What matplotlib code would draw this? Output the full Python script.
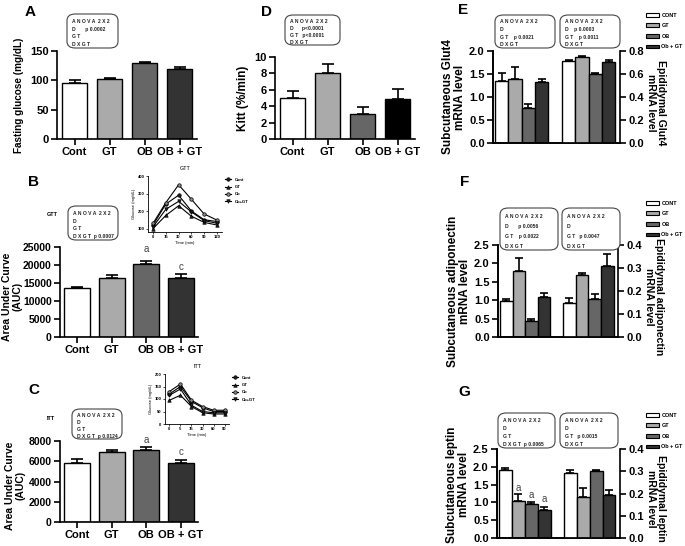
import matplotlib
matplotlib.use('Agg')
from matplotlib import pyplot as plt
from matplotlib.patches import FancyBboxPatch, Patch
import numpy as np

plt.rcParams['font.family'] = ['Liberation Sans', 'DejaVu Sans']
plt.rcParams['font.weight'] = 'bold'

W, H = 685, 546

# ---- data ----
groups = ['Cont', 'GT', 'OB', 'OB + GT']
legend_labels = ['CONT', 'GT', 'OB', 'Ob + GT']

glucose = [96, 102, 129, 120]
glucose_err = [5, 2, 2, 3]

gtt_auc = [13700, 16300, 20400, 16500]
gtt_auc_err = [300, 1000, 700, 1000]

itt_auc = [5800, 6950, 7100, 5850]
itt_auc_err = [400, 200, 300, 250]

kitt = [5.0, 8.1, 3.1, 4.9]
kitt_err = [0.8, 1.0, 0.85, 1.2]

glut4_sub = [1.35, 1.40, 0.75, 1.32]
glut4_sub_err = [0.17, 0.25, 0.10, 0.08]
glut4_epi = [0.71, 0.75, 0.60, 0.70]
glut4_epi_err = [0.01, 0.005, 0.01, 0.02]

adipo_sub = [0.97, 1.78, 0.44, 1.10]
adipo_sub_err = [0.05, 0.37, 0.04, 0.10]
adipo_epi = [0.148, 0.270, 0.165, 0.310]
adipo_epi_err = [0.022, 0.010, 0.020, 0.050]

leptin_sub = [1.92, 1.05, 0.95, 0.78]
leptin_sub_err = [0.06, 0.18, 0.05, 0.08]
leptin_epi = [0.290, 0.185, 0.300, 0.195]
leptin_epi_err = [0.014, 0.040, 0.005, 0.020]

time_gtt = ['0', '15', '30', '60', '90', '120']
time_itt = ['0', '5', '15', '30', '60', '90']
inset_names = ['Cont', 'GT', 'Ob', 'Ob+GT']
gtt_curves = [
    [120, 240, 290, 200, 150, 140],
    [100, 175, 230, 170, 135, 120],
    [130, 248, 350, 267, 183, 148],
    [110, 210, 255, 195, 145, 130],
]
itt_curves = [
    [120, 150, 90, 65, 50, 50],
    [95, 115, 70, 45, 40, 40],
    [130, 160, 95, 70, 55, 55],
    [115, 140, 75, 50, 45, 45],
]

bar_colors = ['#ffffff', '#aaaaaa', '#666666', '#333333']
markers = ['o', '^', 'o', 'v']
marker_faces = ['#222222', '#222222', '#888888', '#222222']

fig = plt.figure(figsize=(W / 100, H / 100), dpi=100)


def px_axes(x0, y0, x1, y1):
    return fig.add_axes([x0 / W, 1 - y1 / H, (x1 - x0) / W, (y1 - y0) / H])


def px_text(x, y, s, **kw):
    fig.text(x / W, 1 - y / H, s, **kw)


def style_axis(ax, right=False, tsize=8):
    for side in ['top', 'right']:
        ax.spines[side].set_visible(False)
    if right:
        ax.spines['right'].set_visible(True)
    for sp in ax.spines.values():
        sp.set_linewidth(1.2)
    ax.tick_params(direction='out', width=1.2, length=4, labelsize=tsize, pad=2)
    for lbl in ax.get_yticklabels() + ax.get_xticklabels():
        lbl.set_fontweight('bold')


def anova_box(x0, y0, x1, y1, lines):
    box = FancyBboxPatch((x0 / W, 1 - y1 / H), (x1 - x0) / W, (y1 - y0) / H,
                         boxstyle='round,pad=0,rounding_size=0.012',
                         transform=fig.transFigure, facecolor='white',
                         edgecolor='#444444', linewidth=0.8)
    fig.patches.append(box)
    step = (y1 - y0) / (len(lines) + 0.3)
    for i, ln in enumerate(lines):
        px_text(x0 + 5, y0 + step * (i + 0.9), ln, fontsize=3.6,
                fontweight='bold', va='center', ha='left', color='#222222')


def simple_bars(ax, vals, errs, colors, ylim, ticks, ylabel, lsize=8, lpad=3, tsize=8):
    x = np.arange(len(vals))
    ax.bar(x, vals, width=0.74, color=colors, edgecolor='black', linewidth=1)
    ax.errorbar(x, vals, yerr=[np.zeros(len(errs)), errs], fmt='none',
                ecolor='black', elinewidth=1.2, capsize=4, capthick=1.2)
    ax.set_xlim(-0.5, 3.5)
    ax.set_ylim(*ylim)
    ax.set_yticks(ticks)
    ax.set_xticks(x)
    ax.set_xticklabels(groups)
    ax.set_ylabel(ylabel, fontsize=lsize, fontweight='bold', labelpad=lpad,
                  linespacing=1.1)
    style_axis(ax, tsize=tsize)
    ax.tick_params(axis='x', labelsize=8)


def twin_bars(ax, left_vals, left_err, right_vals, right_err,
              lylim, lticks, rylim, rticks, lylabel, rylabel):
    xl = np.arange(4)
    xr = np.arange(4) + 5
    ax.bar(xl, left_vals, width=1, color=bar_colors, edgecolor='black', linewidth=1)
    ax.errorbar(xl, left_vals, yerr=[np.zeros(4), left_err], fmt='none',
                ecolor='black', elinewidth=1.2, capsize=3, capthick=1.2)
    ax.set_xlim(-0.65, 8.85)
    ax.set_ylim(*lylim)
    ax.set_yticks(lticks)
    ax.set_xticks([])
    ax.set_ylabel(lylabel, fontsize=8.5, fontweight='bold', labelpad=2,
                  linespacing=1.0)
    ax2 = ax.twinx()
    ax2.bar(xr, right_vals, width=1, color=bar_colors, edgecolor='black', linewidth=1)
    ax2.errorbar(xr, right_vals, yerr=[np.zeros(4), right_err], fmt='none',
                 ecolor='black', elinewidth=1.2, capsize=3, capthick=1.2)
    ax2.set_ylim(*rylim)
    ax2.set_yticks(rticks)
    ax2.set_ylabel(rylabel, fontsize=7.5, fontweight='bold', rotation=-90,
                   labelpad=16, linespacing=1.0)
    ax2.yaxis.label.set_y(0.44)
    style_axis(ax)
    style_axis(ax2, right=True)
    ax2.spines['left'].set_visible(True)
    ax2.spines['top'].set_visible(False)
    ax.yaxis.set_major_formatter(matplotlib.ticker.FormatStrFormatter('%.1f'))
    return ax2


def bar_legend(x, y):
    handles = [Patch(facecolor=c, edgecolor='black', linewidth=0.8) for c in bar_colors]
    fig.legend(handles, legend_labels, loc='upper left',
               bbox_to_anchor=(x / W, 1 - y / H), frameon=False,
               fontsize=4, handlelength=2.3, handleheight=0.7,
               labelspacing=1.0, handletextpad=0.5, borderpad=0)


def inset_curve(x0, y0, x1, y1, curves, labels, ylim, yticks, title):
    ax = px_axes(x0, y0, x1, y1)
    xs = np.arange(len(labels))
    handles = []
    for cur, m, fc, nm in zip(curves, markers, marker_faces, inset_names):
        h, = ax.plot(xs, cur, color='black', lw=0.8, marker=m, ms=2.5,
                     mfc=fc, mec='black', mew=0.5, label=nm)
        handles.append(h)
    ax.set_xlim(-0.4, len(labels) - 0.6)
    ax.set_ylim(*ylim)
    ax.set_yticks(yticks)
    ax.set_xticks(xs)
    ax.set_xticklabels(labels)
    for sp in ['top', 'right']:
        ax.spines[sp].set_visible(False)
    for sp in ['left', 'bottom']:
        ax.spines[sp].set_linewidth(0.6)
    ax.tick_params(labelsize=3, length=1.5, width=0.5, pad=1)
    ax.set_xlabel('Time (min)', fontsize=3, labelpad=1)
    ax.set_ylabel('Glucose (mg/dL)', fontsize=3, labelpad=1)
    ax.set_title(title, fontsize=4, pad=4)
    ax.legend(handles=handles, loc='upper left', bbox_to_anchor=(1.02, 1.0),
              frameon=False, fontsize=3, handlelength=1.5, labelspacing=0.8,
              borderaxespad=0)
    return ax


# ---- A ----
axA = px_axes(57, 51, 197, 139)
simple_bars(axA, glucose, glucose_err, bar_colors, (0, 150), [0, 50, 100, 150],
            'Fasting glucose (mg/dL)', lsize=7.2, lpad=4)
px_text(25, 12, 'A', fontsize=11, fontweight='bold', va='center')
anova_box(67, 14, 118, 48, ['A N O V A  2 X 2', 'D       p 0.0002', 'G T', 'D X G T'])

# ---- B ----
axB = px_axes(60, 247, 198, 337)
simple_bars(axB, gtt_auc, gtt_auc_err, bar_colors, (0, 25000),
            [0, 5000, 10000, 15000, 20000, 25000], 'Area Under Curve\n(AUC)',
            lsize=7.5, lpad=1, tsize=7.5)
axB.yaxis.set_label_coords(-0.27, 0.45)
axB.text(2, 23500, 'a', ha='center', fontsize=7, fontweight='normal', color='#444444')
axB.text(3, 18700, 'c', ha='center', fontsize=7, fontweight='normal', color='#444444')
px_text(28, 182, 'B', fontsize=11, fontweight='bold', va='center')
px_text(47, 215, 'GTT', fontsize=4, fontweight='bold', va='center')
anova_box(68, 206, 118, 240, ['A N O V A  2 X 2', 'D', 'G T', 'D X G T  p 0.0007'])
inset_curve(148, 176, 222, 232, gtt_curves, time_gtt, (80, 400),
            [100, 200, 300, 400], 'GTT')

# ---- C ----
axC = px_axes(60, 441, 198, 522)
simple_bars(axC, itt_auc, itt_auc_err, bar_colors, (0, 8000),
            [0, 2000, 4000, 6000, 8000], 'Area Under Curve\n(AUC)',
            lsize=7.5, lpad=3, tsize=7.5)
axC.yaxis.set_label_coords(-0.25, 0.45)
axC.text(2, 7850, 'a', ha='center', fontsize=7, fontweight='normal',
         color='#444444', clip_on=False)
axC.text(3, 6600, 'c', ha='center', fontsize=7, fontweight='normal', color='#444444')
px_text(28, 390, 'C', fontsize=11, fontweight='bold', va='center')
px_text(47, 418, 'ITT', fontsize=4, fontweight='bold', va='center')
anova_box(72, 409, 122, 439, ['A N O V A  2 X 2', 'D', 'G T', 'D X G T  p 0.0124'])
inset_curve(165, 374, 229, 424, itt_curves, time_itt, (0, 200),
            [0, 50, 100, 150, 200], 'ITT')

# ---- D ----
axD = px_axes(275, 57, 415, 139)
simple_bars(axD, kitt, kitt_err, bar_colors[:3] + ['#000000'], (0, 10),
            [0, 2, 4, 6, 8, 10], 'Kitt (%/min)', lsize=8.5, lpad=4)
px_text(261, 12, 'D', fontsize=11, fontweight='bold', va='center')
anova_box(285, 15, 340, 45, ['A N O V A  2 X 2', 'D      p<0.0001', 'G T   p<0.0001', 'D X G T'])

# ---- E ----
axE = px_axes(493, 51, 620, 143)
twin_bars(axE, glut4_sub, glut4_sub_err, glut4_epi, glut4_epi_err,
          (0, 2.0), [0.0, 0.5, 1.0, 1.5, 2.0], (0, 0.8), [0.0, 0.2, 0.4, 0.6, 0.8],
          'Subcutaneous Glut4\nmRNA level', 'Epididymal Glut4\nmRNA level')
px_text(458, 10, 'E', fontsize=11, fontweight='bold', va='center')
anova_box(495, 15, 555, 48, ['A N O V A  2 X 2', 'D', 'G T    p 0.0021', 'D X G T'])
anova_box(560, 15, 620, 48, ['A N O V A  2 X 2', 'D    p 0.0003', 'G T    p 0.0011', 'D X G T'])
bar_legend(643, 10)

# ---- F ----
axF = px_axes(498, 245, 618, 337)
twin_bars(axF, adipo_sub, adipo_sub_err, adipo_epi, adipo_epi_err,
          (0, 2.5), [0.0, 0.5, 1.0, 1.5, 2.0, 2.5], (0, 0.4), [0.0, 0.1, 0.2, 0.3, 0.4],
          'Subcutaneous adiponectin\nmRNA level', 'Epididymal adiponectin\nmRNA level')
px_text(460, 182, 'F', fontsize=11, fontweight='bold', va='center')
anova_box(500, 208, 558, 250, ['A N O V A  2 X 2', 'D       p 0.0056', 'G T    p 0.0022', 'D X G T'])
anova_box(562, 208, 620, 250, ['A N O V A  2 X 2', 'D', 'G T   p 0.0047', 'D X G T'])
bar_legend(643, 198)

# ---- G ----
axG = px_axes(497, 449, 620, 538)
twin_bars(axG, leptin_sub, leptin_sub_err, leptin_epi, leptin_epi_err,
          (0, 2.5), [0.0, 0.5, 1.0, 1.5, 2.0, 2.5], (0, 0.4), [0.0, 0.1, 0.2, 0.3, 0.4],
          'Subcutaneous leptin\nmRNA level', 'Epididymal leptin\nmRNA level')
axG.yaxis.label.set_y(0.6)
for i, yv in zip([1, 2, 3], [1.33, 1.12, 1.0]):
    axG.text(i, yv, 'a', ha='center', fontsize=7, fontweight='normal', color='#444444')
px_text(458, 392, 'G', fontsize=11, fontweight='bold', va='center')
anova_box(498, 413, 555, 448, ['A N O V A  2 X 2', 'D', 'G T', 'D X G T  p 0.0065'])
anova_box(560, 413, 618, 448, ['A N O V A  2 X 2', 'D', 'G T   p 0.0015', 'D X G T'])
bar_legend(643, 410)

fig.savefig('out.png', dpi=100)
